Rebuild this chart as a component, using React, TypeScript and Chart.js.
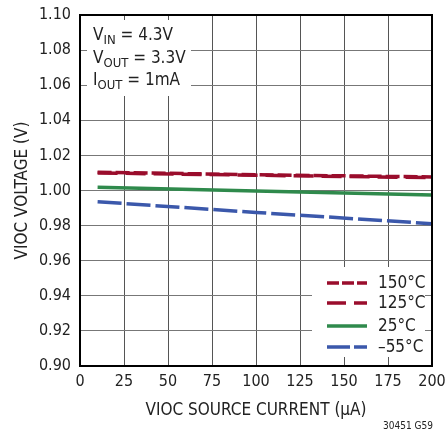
import React, { useEffect, useRef } from "react";
import { Chart, registerables } from "chart.js";
Chart.register(...registerables);

const currents = [10, 100, 200];
const v150 = [1.0104, 1.009, 1.0077];
const v125 = [1.01, 1.0087, 1.0073];
const v25 = [1.0018, 0.9997, 0.9974];
const vm55 = [0.9936, 0.9875, 0.9811];
const seriesLabels = ["150°C", "125°C", "25°C", "–55°C"];
const xTicks = [0, 25, 50, 75, 100, 125, 150, 175, 200];

const FONT = "'DejaVu Sans Condensed', 'Liberation Sans Narrow', sans-serif";
const RED = "#9a0d2c";
const GREEN = "#2f8a4c";
const BLUE = "#3b58ab";

const toPts = (ys: number[]) => currents.map((x, i) => ({ x, y: ys[i] }));

const overlay = {
  id: "overlay",
  afterDatasetsDraw(chart: any) {
    const { ctx, chartArea: a } = chart;
    ctx.save();
    ctx.fillStyle = "#fff";
    ctx.fillRect(a.left + 7, a.top + 5, 104, 76);
    ctx.fillRect(312, 267, 113, 90);
    ctx.strokeStyle = "#000";
    ctx.lineWidth = 2;
    ctx.strokeRect(a.left, a.top, a.right - a.left, a.bottom - a.top);
    ctx.fillStyle = "#222";
    ctx.textBaseline = "alphabetic";
    const lines = [
      ["V", "IN", " = 4.3V", 40],
      ["V", "OUT", " = 3.3V", 63],
      ["I", "OUT", " = 1mA", 85],
    ] as [string, string, string, number][];
    for (const [m, sub, rest, y] of lines) {
      let x = 93;
      ctx.font = `17px ${FONT}`;
      ctx.fillText(m, x, y);
      x += ctx.measureText(m).width;
      ctx.font = `13px ${FONT}`;
      ctx.fillText(sub, x, y + 4);
      x += ctx.measureText(sub).width;
      ctx.font = `17px ${FONT}`;
      ctx.fillText(rest, x, y);
    }
    const leg = [
      [RED, [12, 3], 283],
      [RED, [19, 8], 303],
      [GREEN, [], 326],
      [BLUE, [23, 4], 347],
    ] as [string, number[], number][];
    leg.forEach(([c, d, y], i) => {
      ctx.strokeStyle = c;
      ctx.lineWidth = 3.5;
      ctx.setLineDash(d);
      ctx.beginPath();
      ctx.moveTo(327, y);
      ctx.lineTo(367, y);
      ctx.stroke();
      ctx.setLineDash([]);
      ctx.fillStyle = "#222";
      ctx.font = `17px ${FONT}`;
      ctx.textBaseline = "middle";
      ctx.fillText(seriesLabels[i], 378, y + 1);
    });
    ctx.font = `10px ${FONT}`;
    ctx.textBaseline = "alphabetic";
    ctx.textAlign = "right";
    ctx.fillText("30451 G59", 433, 429);
    ctx.restore();
  },
};

export default function App() {
  const ref = useRef<HTMLCanvasElement>(null);
  useEffect(() => {
    document.body.style.margin = "0";
    const chart = new Chart(ref.current!, {
      type: "line",
      data: {
        datasets: [
          { label: seriesLabels[0], data: toPts(v150), borderColor: RED, borderWidth: 3.5, borderDash: [14, 4], pointRadius: 0 },
          { label: seriesLabels[1], data: toPts(v125), borderColor: RED, borderWidth: 3.5, borderDash: [20, 8], pointRadius: 0 },
          { label: seriesLabels[2], data: toPts(v25), borderColor: GREEN, borderWidth: 3.5, pointRadius: 0 },
          { label: seriesLabels[3], data: toPts(vm55), borderColor: BLUE, borderWidth: 3.5, borderDash: [24, 5], pointRadius: 0 },
        ],
      },
      plugins: [overlay],
      options: {
        animation: false,
        responsive: false,
        layout: { padding: { left: 0, top: 15, right: 16, bottom: 0 } },
        plugins: { legend: { display: false }, tooltip: { enabled: false } },
        scales: {
          x: {
            type: "linear",
            min: 0,
            max: 200,
            afterBuildTicks: (s: any) => { s.ticks = xTicks.map((v) => ({ value: v })); },
            afterFit: (s: any) => { s.height = 69; s.paddingRight = 0; s.paddingLeft = 0; },
            grid: { color: "#555", lineWidth: 1, drawTicks: false },
            border: { display: false },
            ticks: { color: "#222", font: { family: FONT, size: 16 }, padding: 6, maxRotation: 0, autoSkip: false },
            title: { display: true, text: "VIOC SOURCE CURRENT (µA)", color: "#222", font: { family: FONT, size: 17 }, padding: { top: 2, bottom: 14 } },
          },
          y: {
            min: 0.9,
            max: 1.1,
            afterBuildTicks: (s: any) => {
              const t = [];
              for (let i = 0; i <= 10; i++) t.push({ value: 0.9 + i * 0.02 });
              s.ticks = t;
            },
            afterFit: (s: any) => { s.width = 80; s.paddingTop = 0; s.paddingBottom = 0; },
            grid: { color: "#777", lineWidth: 1, drawTicks: false },
            border: { display: false },
            ticks: { color: "#222", font: { family: FONT, size: 16 }, padding: 9, callback: (v: any) => Number(v).toFixed(2) },
            title: { display: true, text: "VIOC VOLTAGE (V)", color: "#222", font: { family: FONT, size: 17 }, padding: { top: 12, bottom: 2 } },
          },
        },
      },
    });
    return () => chart.destroy();
  }, []);
  return (
    <div style={{ position: "absolute", left: 0, top: 0, width: 448, height: 435, background: "#fff" }}>
      <canvas ref={ref} width={448} height={435} style={{ width: 448, height: 435 }} />
    </div>
  );
}
